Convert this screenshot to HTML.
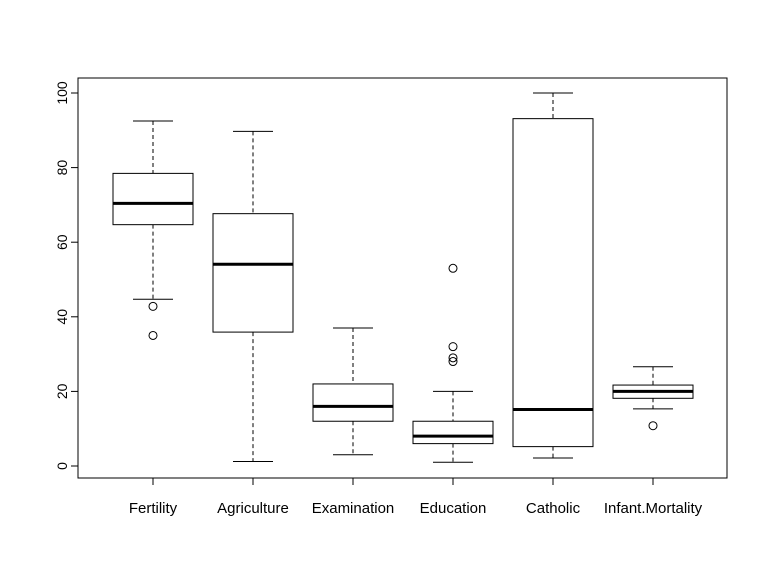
<!DOCTYPE html>
<html><head><meta charset="utf-8"><style>
body{margin:0;background:#fff}
svg{display:block;font-family:"Liberation Sans",Arial,sans-serif}
</style></head><body>
<svg id="chart" width="768" height="576">
<rect x="78" y="78" width="649" height="400" fill="none" stroke="#000"/>
<g id="yaxis"></g>
<g id="xaxis"></g>
<g id="boxes"></g>
</svg>
<script>
const categories=["Fertility","Agriculture","Examination","Education","Catholic","Infant.Mortality"];
const whiskerLow=[44.7,1.2,3,1,2.15,15.3];
const q1=[64.7,35.9,12,6,5.195,18.15];
const median=[70.4,54.1,16,8,15.14,20];
const q3=[78.45,67.65,22,12,93.125,21.7];
const whiskerHigh=[92.5,89.7,37,20,100,26.6];
const outliers=[[42.8,35],[],[],[28,29,32,53],[],[10.8]];
const yTicks=[0,20,40,60,80,100];
const NS="http://www.w3.org/2000/svg";
const y=v=>466-v*3.73;
const x=i=>153+i*100;
function mk(tag,attrs,parent){const e=document.createElementNS(NS,tag);for(const k in attrs)e.setAttribute(k,attrs[k]);parent.appendChild(e);return e;}
const ya=document.getElementById('yaxis'),xa=document.getElementById('xaxis'),bx=document.getElementById('boxes');
mk('line',{x1:78,x2:78,y1:y(0),y2:y(100),stroke:'#000'},ya);
yTicks.forEach(t=>{
  const l=mk('line',{x1:71,x2:78,y1:y(t),y2:y(t),stroke:'#000'},ya);
  
  
  const tx=mk('text',{x:0,y:0,'font-size':14,'text-anchor':'middle',transform:`translate(67,${y(t)}) rotate(-90)`},ya);
  tx.textContent=t;
  
  
});
mk('line',{x1:x(0),x2:x(5),y1:478,y2:478,stroke:'#000'},xa);
categories.forEach((c,i)=>{
  const cx=x(i);
  const l=mk('line',{x1:cx,x2:cx,y1:478,y2:485,stroke:'#000'},xa);
  
  
  const tx=mk('text',{x:cx,y:513,'font-size':15,'text-anchor':'middle'},xa);
  tx.textContent=c;
  
  
  const g=mk('g',{},bx);
  
  
  mk('line',{x1:cx,x2:cx,y1:y(whiskerHigh[i]),y2:y(q3[i]),stroke:'#000','stroke-dasharray':'4,3'},g);
  mk('line',{x1:cx,x2:cx,y1:y(q1[i]),y2:y(whiskerLow[i]),stroke:'#000','stroke-dasharray':'4,3'},g);
  mk('line',{x1:cx-20,x2:cx+20,y1:y(whiskerHigh[i]),y2:y(whiskerHigh[i]),stroke:'#000'},g);
  mk('line',{x1:cx-20,x2:cx+20,y1:y(whiskerLow[i]),y2:y(whiskerLow[i]),stroke:'#000'},g);
  mk('rect',{x:cx-40,y:y(q3[i]),width:80,height:y(q1[i])-y(q3[i]),fill:'#fff',stroke:'#000'},g);
  mk('line',{x1:cx-40,x2:cx+40,y1:y(median[i]),y2:y(median[i]),stroke:'#000','stroke-width':3},g);
  outliers[i].forEach(o=>{
    const p=mk('circle',{cx:cx,cy:y(o),r:4,fill:'none',stroke:'#000'},g);
    
    
  });
});
</script>
</body></html>
